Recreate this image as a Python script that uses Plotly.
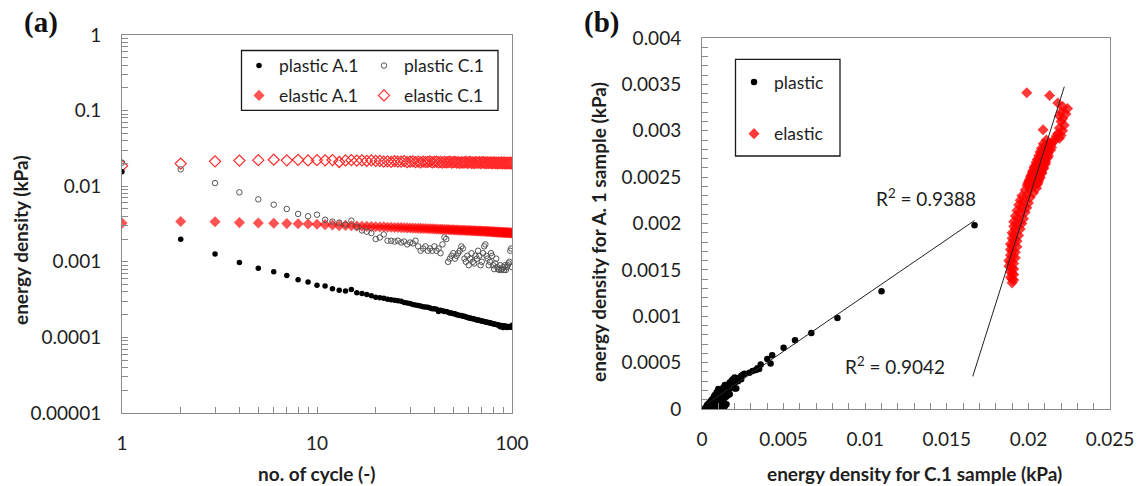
import plotly.graph_objects as go

# ---------------- data ----------------
cycles = list(range(1, 101))

plastic_A1 = [0.0155, 0.00198, 0.00127, 0.00098, 0.00082, 0.00074, 0.00066, 0.00058, 0.00054, 0.00049,
              0.00048, 0.00044, 0.00042, 0.00041, 0.00043, 0.00039, 0.00038, 0.00037, 0.000355, 0.00034,
              0.000335, 0.00033, 0.00032, 0.000315, 0.00031, 0.000305, 0.0003, 0.00029, 0.000285, 0.00028,
              0.000272, 0.000268, 0.000265, 0.00026, 0.000255, 0.000252, 0.00025, 0.000245, 0.00024, 0.00024,
              0.000235, 0.00022, 0.000228, 0.000225, 0.00022, 0.00022, 0.000215, 0.00021, 0.00021, 0.000205,
              0.000205, 0.0002, 0.000198, 0.000195, 0.000195, 0.00019, 0.00019, 0.000186, 0.000185, 0.00018,
              0.00018, 0.000178, 0.000176, 0.000175, 0.000172, 0.00017, 0.00017, 0.000168, 0.000166, 0.000165,
              0.000164, 0.000162, 0.00016, 0.00016, 0.000158, 0.000157, 0.000155, 0.000155, 0.000153, 0.000152,
              0.00015, 0.000149, 0.000148, 0.000147, 0.000146, 0.000145, 0.000138, 0.000144, 0.000143, 0.000135,
              0.000142, 0.000141, 0.00014, 0.000135, 0.000139, 0.000138, 0.000137, 0.000136, 0.000136, 0.000145]

plastic_C1 = [0.0205, 0.0167, 0.0110, 0.0083, 0.0067, 0.0057, 0.0050, 0.0043, 0.0040, 0.0042,
              0.0036, 0.0034, 0.0033, 0.0031, 0.0035, 0.0029, 0.0026, 0.0025, 0.0024, 0.0020,
              0.0021, 0.0023, 0.0019, 0.0019, 0.00185, 0.0019, 0.0018, 0.00185, 0.0017, 0.0018,
              0.00175, 0.0019, 0.0016, 0.0014, 0.0015, 0.0016, 0.0014, 0.0015, 0.0014, 0.0016,
              0.0014, 0.0015, 0.0013, 0.0017, 0.0021, 0.0020, 0.0010, 0.0011, 0.0012, 0.0013,
              0.0011, 0.0012, 0.0013, 0.0014, 0.0016, 0.0015, 0.0011, 0.0010, 0.0012, 0.0009,
              0.0011, 0.0013, 0.0010, 0.00095, 0.0012, 0.0011, 0.0014, 0.0012, 0.0009, 0.0010,
              0.0013, 0.0016, 0.0017, 0.0012, 0.0011, 0.0009, 0.0010, 0.0013, 0.0012, 0.0009,
              0.0008, 0.00095, 0.0011, 0.00085, 0.0008, 0.00078, 0.0009, 0.00078, 0.0008, 0.00085,
              0.00078, 0.0009, 0.00078, 0.00085, 0.0009, 0.00095, 0.0010, 0.0014, 0.0015, 0.00085]

elastic_A1 = [0.00325, 0.00341, 0.00338, 0.0033, 0.00326, 0.00324, 0.0032, 0.00318, 0.00316, 0.00313,
              0.0031, 0.00306, 0.00301, 0.00303, 0.003, 0.00297, 0.00295, 0.00294, 0.00292, 0.0029,
              0.00289, 0.0029, 0.00287, 0.00286, 0.00285, 0.00285, 0.00283, 0.00282, 0.00281, 0.0028,
              0.00279, 0.00278, 0.00277, 0.00277, 0.00276, 0.00275, 0.00274, 0.00273, 0.00273, 0.00272,
              0.00271, 0.0027, 0.0027, 0.00269, 0.00268, 0.00268, 0.00267, 0.00266, 0.00266, 0.00265,
              0.00264, 0.00264, 0.00263, 0.00262, 0.00262, 0.00261, 0.00261, 0.0026, 0.0026, 0.00259,
              0.00259, 0.00258, 0.00258, 0.00257, 0.00257, 0.00256, 0.00256, 0.00255, 0.00255, 0.00254,
              0.00254, 0.00253, 0.00253, 0.00252, 0.00252, 0.00251, 0.00251, 0.0025, 0.0025, 0.00249,
              0.00249, 0.00248, 0.00248, 0.00247, 0.00247, 0.00246, 0.00246, 0.00246, 0.00245, 0.00245,
              0.00244, 0.00244, 0.00244, 0.00243, 0.00243, 0.00242, 0.00242, 0.00242, 0.00241, 0.00241]

elastic_C1 = [0.0186, 0.0199, 0.0213, 0.0218, 0.0221, 0.0224, 0.0220, 0.0223, 0.0219, 0.0221,
              0.0220, 0.0222, 0.0209, 0.0219, 0.0221, 0.0218, 0.0220, 0.0217, 0.0219, 0.0216,
              0.02158, 0.0211, 0.02133, 0.02091, 0.02139, 0.02109, 0.02115, 0.02142, 0.0208, 0.02118,
              0.02136, 0.02084, 0.02111, 0.02071, 0.02119, 0.02087, 0.02095, 0.02123, 0.02063, 0.021,
              0.02118, 0.02066, 0.02096, 0.02054, 0.02102, 0.02072, 0.02079, 0.02107, 0.02047, 0.02085,
              0.02103, 0.02053, 0.02081, 0.02038, 0.02088, 0.02056, 0.02066, 0.02094, 0.02034, 0.02072,
              0.02092, 0.0204, 0.0207, 0.02027, 0.02077, 0.02045, 0.02055, 0.02083, 0.02023, 0.02061,
              0.02081, 0.02029, 0.02059, 0.02016, 0.02066, 0.02034, 0.02044, 0.02072, 0.02012, 0.0205,
              0.0207, 0.02018, 0.02048, 0.02005, 0.02055, 0.02023, 0.02033, 0.02063, 0.02001, 0.02041,
              0.02059, 0.02009, 0.02039, 0.01997, 0.02047, 0.02014, 0.02024, 0.02054, 0.01992, 0.02032]

# later cycles (beyond cycle 100), visible only in panel (b)
plastic_C1_later = [0.0012, 0.0009, 0.0007, 0.0011, 0.0008, 0.0006, 0.0013, 0.0010, 0.0007, 0.0005,
                    0.0012, 0.0009, 0.0006, 0.0004, 0.0011, 0.0008, 0.0005, 0.0003, 0.0014, 0.0010,
                    0.0007, 0.0004, 0.0012, 0.0009, 0.0006, 0.0003, 0.0011, 0.0008, 0.0005,
                    0.0015, 0.0018, 0.0013, 0.0016, 0.0020, 0.0017, 0.0022, 0.0014, 0.0012, 0.0015,
                    0.0002, 0.0004, 0.0019, 0.0024, 0.0010, 0.0013,
                    0.0005, 0.0009, 0.0011, 0.0003, 0.0006, 0.0016, 0.0019, 0.0013]
plastic_A1_later = [0.00013, 0.00012, 0.00012, 0.0001, 0.0001, 0.0001, 0.00008, 0.00008, 0.00008, 0.00008,
                    0.00006, 0.00006, 0.00006, 0.00006, 0.00004, 0.00004, 0.00004, 0.00004, 0.00003, 0.00002,
                    0.00002, 0.00002, 0.00001, 0.00001, 0.00001, 0.00001, 0.000005, 0.000005, 0.000005,
                    0.0002, 0.00025, 0.00018, 0.00015, 0.00028, 0.00022, 0.0003, 0.00012, 0.00007, 0.00005,
                    0.00001, 0.00003, 0.00026, 0.00032, 0.00016, 0.00021,
                    0.00007, 0.00015, 0.00017, 0.00003, 0.00009, 0.00024, 0.0003, 0.00009]
elastic_C1_later = [0.0205, 0.0198, 0.0203, 0.0196, 0.0201, 0.0195, 0.0200, 0.0194, 0.0199, 0.0193,
                    0.0198, 0.0192, 0.0197, 0.0191, 0.0196, 0.0191, 0.0195, 0.0190, 0.0194, 0.0190,
                    0.0193, 0.0189, 0.0193, 0.0189, 0.0192, 0.0189, 0.0192, 0.0188, 0.0191, 0.0188,
                    0.0191, 0.0189, 0.0191, 0.0189, 0.0191, 0.0190,
                    0.0201, 0.0199, 0.0197, 0.0196, 0.0195, 0.0194, 0.0193, 0.0192, 0.0191, 0.0191,
                    0.0190, 0.0190, 0.0190, 0.0189, 0.0190, 0.0190, 0.0190]
elastic_A1_later = [0.00238, 0.00236, 0.00233, 0.0023, 0.00228, 0.00225, 0.00222, 0.0022, 0.00217, 0.00214,
                    0.00212, 0.00208, 0.00205, 0.00202, 0.002, 0.00197, 0.00194, 0.0019, 0.00187, 0.00184,
                    0.00181, 0.00178, 0.00175, 0.00172, 0.00169, 0.00166, 0.00163, 0.0016, 0.00157, 0.00154,
                    0.00151, 0.00148, 0.00145, 0.00142, 0.00139, 0.00136,
                    0.00237, 0.00231, 0.00224, 0.00218, 0.00212, 0.00206, 0.002, 0.00194, 0.00188, 0.00182,
                    0.00176, 0.0017, 0.00164, 0.00158, 0.00152, 0.00146, 0.0014]

# linear trendlines of panel (b)
plastic_fit = {"slope": 0.1205, "intercept": 0.00002, "x0": 0.0003, "x1": 0.0167, "r2": "0.9388"}
elastic_fit = {"slope": 0.5567, "intercept": -0.008884, "x0": 0.01659, "x1": 0.0222, "r2": "0.9042"}

# tick labels
a_x_tickvals = [1, 10, 100]
a_x_ticktext = ["1", "10", "100"]
a_y_tickvals = [0.00001, 0.0001, 0.001, 0.01, 0.1, 1]
a_y_ticktext = ["0.00001", "0.0001", "0.001", "0.01", "0.1", "1"]
b_x_tickvals = [0, 0.005, 0.01, 0.015, 0.02, 0.025]
b_x_ticktext = ["0", "0.005", "0.01", "0.015", "0.02", "0.025"]
b_y_tickvals = [0, 0.0005, 0.001, 0.0015, 0.002, 0.0025, 0.003, 0.0035, 0.004]
b_y_ticktext = ["0", "0.0005", "0.001", "0.0015", "0.002", "0.0025", "0.003", "0.0035", "0.004"]

# ---------------- styling ----------------
W, H = 1138, 486
FONT = "Lato"
TXT = "#1e1e1e"
FRAME = "#8a8a8a"
RED_FILL = "rgba(255,0,0,0.68)"
RED_FILL_B = "rgba(255,0,0,0.78)"
RED_LINE = "#ff2a2a"


def px(xp):
    return xp / W


def py(yp):
    return 1 - yp / H


fig = go.Figure()

# panel (a)
fig.add_trace(go.Scatter(x=cycles, y=elastic_A1, mode="markers", name="elastic A.1",
                         marker=dict(symbol="diamond", size=8.5, color=RED_FILL, line=dict(width=0)),
                         xaxis="x", yaxis="y", legend="legend2"))
fig.add_trace(go.Scatter(x=cycles, y=elastic_C1, mode="markers", name="elastic C.1",
                         marker=dict(symbol="diamond-open", size=8.5, color=RED_LINE, line=dict(width=1.2)),
                         xaxis="x", yaxis="y", legend="legend2"))
fig.add_trace(go.Scatter(x=cycles, y=plastic_A1, mode="markers", name="plastic A.1",
                         marker=dict(symbol="circle", size=5.5, color="#000000"),
                         xaxis="x", yaxis="y", legend="legend"))
fig.add_trace(go.Scatter(x=cycles, y=plastic_C1, mode="markers", name="plastic C.1",
                         marker=dict(symbol="circle-open", size=5.5, color="#555555", line=dict(width=1)),
                         xaxis="x", yaxis="y", legend="legend"))

# panel (b)  (cycle 1 omitted)
fig.add_trace(go.Scatter(x=plastic_C1[1:] + plastic_C1_later, y=plastic_A1[1:] + plastic_A1_later,
                         mode="markers", name="plastic",
                         marker=dict(symbol="circle", size=6.5, color="#000000"),
                         xaxis="x2", yaxis="y2", legend="legend3", legendgroup="p"))
fig.add_trace(go.Scatter(x=elastic_C1[1:] + elastic_C1_later, y=elastic_A1[1:] + elastic_A1_later,
                         mode="markers", name="elastic",
                         marker=dict(symbol="diamond", size=8.5, color=RED_FILL_B, line=dict(width=0)),
                         xaxis="x2", yaxis="y2", legend="legend3", legendgroup="e"))
for fit in (plastic_fit, elastic_fit):
    xs = [fit["x0"], fit["x1"]]
    ys = [fit["slope"] * v + fit["intercept"] for v in xs]
    fig.add_trace(go.Scatter(x=xs, y=ys, mode="lines", line=dict(color="#222222", width=1),
                             showlegend=False, hoverinfo="skip", xaxis="x2", yaxis="y2"))

tickfont = dict(family=FONT, size=19, color=TXT)
axis_common = dict(showgrid=False, zeroline=False, showline=True, linecolor=FRAME, linewidth=1,
                   mirror=True, ticks="inside", ticklen=6, tickcolor=FRAME, tickfont=tickfont,
                   automargin=False)

legfont = dict(family=FONT, size=17.5, color=TXT)
fig.update_layout(
    width=W, height=H,
    margin=dict(l=0, r=0, t=0, b=0),
    paper_bgcolor="white", plot_bgcolor="white",
    font=dict(family=FONT, color=TXT),
    xaxis=dict(axis_common, type="log", range=[0, 2], domain=[px(122), px(512)], anchor="y",
               tickvals=a_x_tickvals, ticktext=a_x_ticktext, ticklabelstandoff=13,
               minor=dict(ticks="inside", ticklen=6, tickcolor=FRAME, dtick="D1")),
    yaxis=dict(axis_common, type="log", range=[-5, 0], domain=[py(413), py(35)], anchor="x",
               tickvals=a_y_tickvals, ticktext=a_y_ticktext, ticklabelstandoff=16,
               minor=dict(ticks="inside", ticklen=6, tickcolor=FRAME, dtick="D1")),
    xaxis2=dict(axis_common, range=[0, 0.025], domain=[px(702), px(1110)], anchor="y2",
                tickvals=b_x_tickvals, ticktext=b_x_ticktext, ticklabelstandoff=13,
                minor=dict(ticks="inside", ticklen=6, tickcolor=FRAME, dtick=0.001)),
    yaxis2=dict(axis_common, range=[0, 0.004], domain=[py(409), py(38)], anchor="x2",
                tickvals=b_y_tickvals, ticktext=b_y_ticktext, ticklabelstandoff=16,
                minor=dict(ticks="inside", ticklen=6, tickcolor=FRAME, dtick=0.0001)),
    legend=dict(orientation="h", x=px(239), y=py(65.7), xanchor="left", yanchor="middle",
                entrywidth=80, entrywidthmode="pixels", bgcolor="rgba(0,0,0,0)",
                font=legfont, itemsizing="trace"),
    legend2=dict(orientation="h", x=px(239), y=py(95.5), xanchor="left", yanchor="middle",
                 entrywidth=80, entrywidthmode="pixels", bgcolor="rgba(0,0,0,0)",
                 font=legfont, itemsizing="trace"),
    legend3=dict(orientation="v", x=px(734), y=py(64), xanchor="left", yanchor="top",
                 traceorder="grouped", tracegroupgap=26, bgcolor="rgba(0,0,0,0)",
                 font=legfont, itemsizing="trace"),
    showlegend=True,
)

# legend frames
fig.add_shape(type="rect", xref="paper", yref="paper", x0=px(241.5), x1=px(498), y0=py(110.3), y1=py(50.5),
              line=dict(color="#1a1a1a", width=1.3))
fig.add_shape(type="rect", xref="paper", yref="paper", x0=px(735.5), x1=px(840), y0=py(156), y1=py(59.3),
              line=dict(color="#1a1a1a", width=1.3))

title_font = dict(family=FONT, size=19, color=TXT)
annotations = [
    dict(text="<b>(a)</b>", x=px(41), y=py(22), font=dict(family="Liberation Serif", size=29, color="#111")),
    dict(text="<b>(b)</b>", x=px(601), y=py(23), font=dict(family="Liberation Serif", size=29, color="#111")),
    dict(text="<b>no. of cycle (-)</b>", x=px(317), y=py(473), font=title_font),
    dict(text="<b>energy density (kPa)</b>", x=px(20), y=py(240), textangle=-90, font=title_font),
    dict(text="<b>energy density for C.1 sample (kPa)</b>", x=px(914), y=py(473), font=title_font),
    dict(text="<b>energy density for A. 1 sample (kPa)</b>", x=px(598), y=py(232), textangle=-90, font=title_font),
]
for a in annotations:
    a.update(xref="paper", yref="paper", showarrow=False, xanchor="center", yanchor="middle")
    fig.add_annotation(**a)

fig.add_annotation(text="R<sup>2</sup> = " + plastic_fit["r2"], xref="x2", yref="y2",
                   x=0.0169, y=0.002275, xanchor="right", yanchor="middle", showarrow=False,
                   font=dict(family=FONT, size=19, color=TXT))
fig.add_annotation(text="R<sup>2</sup> = " + elastic_fit["r2"], xref="x2", yref="y2",
                   x=0.0150, y=0.000467, xanchor="right", yanchor="middle", showarrow=False,
                   font=dict(family=FONT, size=19, color=TXT))

fig.write_html("out.html")
